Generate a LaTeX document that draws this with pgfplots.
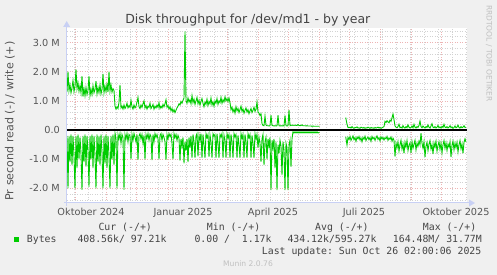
\documentclass[border=0pt]{standalone}
\usepackage{pgfplots}
\pgfplotsset{compat=1.18}
\usepackage{fontspec}
\setmainfont{DejaVu Sans}
\setmonofont{DejaVu Sans Mono}
\definecolor{bg}{HTML}{F0F0F0}
\definecolor{lg}{HTML}{00CC00}
\definecolor{mgrid}{HTML}{EDB4B4}
\definecolor{ngrid}{HTML}{D2D2D2}
\definecolor{axc}{HTML}{C8D0F4}
\definecolor{txt}{HTML}{555555}
\definecolor{ttl}{HTML}{444444}
\definecolor{wm}{HTML}{C0C0C0}
\newcommand{\axfont}{\fontsize{9.72pt}{11pt}\selectfont}
\newcommand{\lgfont}{\ttfamily\fontsize{9.85pt}{11pt}\selectfont}
\begin{document}
\begin{tikzpicture}[x=1pt,y=1pt]
\fill[bg] (0,0) rectangle (497,275);
\begin{axis}[
  at={(67pt,72pt)}, anchor=south west,
  scale only axis, width=400pt, height=175pt,
  xmin=0, xmax=400, ymin=-2.5, ymax=3.5,
  axis background/.style={fill=white},
  axis line style={draw=none},
  tick style={draw=none},
  xtick={8.5,39.8,69.8,101,132,160.5,191.5,221.5,252,282,313,344,374.5},
  xticklabels={},
  minor xtick={7,21,35,49,63,77,91,105,119,133,147,161,175,189,203,217,231,245,259,273,287,301,315,329,343,357,371,385,399},
  extra x ticks={24,116,206,297,389},
  extra x tick labels={Oktober 2024,Januar 2025,April 2025,Juli 2025,Oktober 2025},
  extra x tick style={grid=none, xticklabel style={anchor=base, yshift=-12.5pt, inner sep=0pt, font=\axfont, text=txt}},
  ytick={-2,-1,0,1,2,3},
  yticklabels={-2.0 M,-1.0 M,0.0,1.0 M,2.0 M,3.0 M},
  yticklabel style={anchor=east, inner sep=0pt, xshift=-7pt, font=\axfont, text=txt},
  minor ytick={-2.4,-2.2,-1.8,-1.6,-1.4,-1.2,-0.8,-0.6,-0.4,-0.2,0.2,0.4,0.6,0.8,1.2,1.4,1.6,1.8,2.2,2.4,2.6,2.8,3.2,3.4},
  grid=both,
  major grid style={draw=mgrid, line width=0.7pt, dash pattern=on 1pt off 1.5pt},
  minor grid style={draw=ngrid, line width=0.7pt, dash pattern=on 1pt off 1.5pt},
  clip=false,
]
% write (+)
\addplot[lg, line width=0.9pt] coordinates {
(0,1.30)(1,2.00)(2,1.35)(3,1.55)(4,1.28)(5,1.45)(6,1.70)(7,1.32)(8,1.50)(9,2.08)
(10,1.42)(11,1.62)(12,1.33)(13,1.52)(14,1.28)(15,1.85)(16,1.15)(17,1.42)(18,1.18)(19,1.46)
(20,1.22)(21,1.36)(22,1.85)(23,1.18)(24,1.40)(25,1.22)(26,1.52)(27,1.28)(28,1.40)(29,1.68)
(30,1.24)(31,1.46)(32,1.28)(33,1.55)(34,1.24)(35,1.40)(36,1.93)(37,1.28)(38,1.50)(39,1.32)
(40,1.56)(41,1.30)(42,2.00)(43,1.34)(44,1.55)(45,1.30)(46,1.42)(47,1.36)(48,0.82)(49,0.72)
(50,0.80)(51,0.74)(52,0.95)(53,1.55)(54,0.76)(55,0.82)(56,0.72)(57,0.86)(58,0.74)(59,0.80)
(60,0.92)(61,0.76)(62,0.84)(63,0.78)(64,1.02)(65,0.80)(66,0.72)(67,0.86)(68,0.76)(69,0.82)
(70,0.96)(71,1.12)(72,0.80)(73,0.74)(74,0.86)(75,0.78)(76,0.90)(77,1.00)(78,0.76)(79,0.84)
(80,0.72)(81,0.82)(82,0.78)(83,0.92)(84,0.74)(85,0.80)(86,0.88)(87,0.72)(88,0.82)(89,0.76)
(90,0.86)(91,0.78)(92,0.94)(93,0.74)(94,0.82)(95,0.76)(96,0.88)(97,0.80)(98,0.90)(99,1.04)
(100,0.78)(101,0.84)(102,0.72)(103,0.80)(104,0.66)(105,0.74)(106,0.62)(107,0.70)(108,0.60)(109,0.68)
(110,0.76)(111,0.82)(112,0.90)(113,0.86)(114,0.98)(115,0.92)(116,1.02)(117,1.10)(118,3.38)(119,1.00)
(120,0.92)(121,1.10)(122,0.96)(123,1.04)(124,0.90)(125,1.18)(126,0.94)(127,1.06)(128,0.88)(129,1.00)
(130,1.12)(131,0.90)(132,1.02)(133,0.86)(134,0.98)(135,1.08)(136,0.92)(137,0.80)(138,0.96)(139,0.88)
(140,1.06)(141,0.84)(142,0.98)(143,0.90)(144,1.10)(145,0.86)(146,0.96)(147,0.82)(148,1.00)(149,0.92)
(150,1.08)(151,0.88)(152,1.00)(153,0.94)(154,1.12)(155,0.92)(156,1.04)(157,0.96)(158,1.14)(159,1.00)
(160,1.08)(161,0.98)(162,1.10)(163,0.94)(164,0.70)(165,0.78)(166,0.62)(167,0.72)(168,0.58)(169,0.80)
(170,0.66)(171,0.74)(172,0.60)(173,0.70)(174,0.82)(175,0.64)(176,0.72)(177,0.58)(178,0.68)(179,0.76)
(180,0.62)(181,0.70)(182,0.56)(183,0.66)(184,0.74)(185,0.60)(186,0.68)(187,0.78)(188,0.64)(189,0.72)
(190,0.96)(191,0.62)(192,0.58)(193,0.50)(194,0.56)(195,0.22)(196,0.16)(197,0.15)(198,0.48)(199,0.17)
(200,0.15)(201,0.15)(202,0.14)(203,0.15)(204,0.51)(205,0.16)(206,0.15)(207,0.14)(208,0.15)(209,0.14)
(210,0.15)(211,0.51)(212,0.15)(213,0.14)(214,0.15)(215,0.14)(216,0.15)(217,0.14)(218,0.50)(219,0.15)
(220,0.14)(221,0.15)(222,0.69)(223,0.15)(224,0.17)(225,0.16)(226,0.17)(227,0.16)(228,0.17)(229,0.16)
(230,0.16)(231,0.19)(232,0.16)(233,0.15)(234,0.16)(235,0.18)(236,0.15)(237,0.15)(238,0.15)(239,0.14)
(240,0.15)(241,0.14)(242,0.14)(243,0.14)(244,0.14)(245,0.13)(246,0.14)(247,0.13)(248,0.13)(249,0.13)
(250,0.13)(251,0.13)(252.5,0.13)
};
\addplot[lg, line width=0.9pt] coordinates {
(278.7,0.43)(280,0.20)(281,0.09)(282,0.08)(283,0.10)(284,0.07)(285,0.12)(286,0.08)(287,0.06)(288,0.09)(289,0.08)
(290,0.11)(291,0.07)(292,0.08)(293,0.06)(294,0.10)(295,0.08)(296,0.07)(297,0.09)(298,0.06)(299,0.08)
(300,0.07)(301,0.10)(302,0.08)(303,0.06)(304,0.09)(305,0.07)(306,0.08)(307,0.06)(308,0.09)(309,0.07)
(310,0.08)(311,0.10)(312,0.07)(313,0.09)(314,0.06)(315,0.08)(316,0.10)(317,0.12)(318,0.30)(319,0.26)
(320,0.32)(321,0.28)(322,0.25)(323,0.34)(324,0.30)(325,0.42)(326,0.55)(327,0.36)(328,0.14)(329,0.10)
(330,0.08)(331,0.12)(332,0.20)(333,0.08)(334,0.10)(335,0.07)(336,0.15)(337,0.09)(338,0.07)(339,0.12)
(340,0.08)(341,0.18)(342,0.10)(343,0.07)(344,0.09)(345,0.14)(346,0.08)(347,0.20)(348,0.10)(349,0.07)
(350,0.12)(351,0.09)(352,0.16)(353,0.31)(354,0.12)(355,0.08)(356,0.14)(357,0.10)(358,0.07)(359,0.12)
(360,0.09)(361,0.18)(362,0.10)(363,0.07)(364,0.14)(365,0.22)(366,0.10)(367,0.08)(368,0.12)(369,0.07)
(370,0.10)(371,0.16)(372,0.08)(373,0.11)(374,0.07)(375,0.13)(376,0.09)(377,0.20)(378,0.10)(379,0.08)
(380,0.12)(381,0.07)(382,0.10)(383,0.15)(384,0.08)(385,0.11)(386,0.06)(387,0.09)(388,0.14)(389,0.08)
(390,0.10)(391,0.17)(392,0.09)(393,0.07)(394,0.12)(395,0.08)(396,0.10)(397,0.15)(398,0.09)(399,0.10)
};
% read (-)
\addplot[lg, line width=0.9pt] coordinates {
(0,-0.20)(1,-2.00)(2,-0.20)(3,-1.10)(4,-0.15)(5,-1.20)(6,-0.20)(7,-0.90)(8,-2.00)(9,-0.20)
(10,-1.30)(11,-0.15)(12,-1.00)(13,-0.25)(14,-0.80)(15,-2.05)(16,-0.20)(17,-1.10)(18,-0.15)(19,-1.25)
(20,-0.20)(21,-0.70)(22,-1.95)(23,-0.20)(24,-1.00)(25,-0.15)(26,-1.30)(27,-0.20)(28,-0.90)(29,-2.00)
(30,-0.15)(31,-1.10)(32,-0.20)(33,-1.20)(34,-0.15)(35,-0.80)(36,-2.00)(37,-0.20)(38,-1.15)(39,-0.15)
(40,-1.30)(41,-0.20)(42,-0.90)(43,-2.00)(44,-0.20)(45,-1.00)(46,-0.15)(47,-1.20)(48,-0.10)(49,-0.30)
(50,-2.00)(51,-0.15)(52,-0.30)(53,-0.12)(54,-0.45)(55,-0.15)(56,-0.25)(57,-2.05)(58,-0.15)(59,-0.30)
(60,-0.12)(61,-0.40)(62,-0.15)(63,-0.20)(64,-1.00)(65,-0.15)(66,-0.35)(67,-0.12)(68,-0.25)(69,-0.40)
(70,-0.15)(71,-1.02)(72,-0.20)(73,-0.12)(74,-0.30)(75,-0.15)(76,-0.45)(77,-0.18)(78,-1.00)(79,-0.15)
(80,-0.28)(81,-0.12)(82,-0.35)(83,-0.15)(84,-0.22)(85,-1.03)(86,-0.15)(87,-0.40)(88,-0.12)(89,-0.25)
(90,-0.15)(91,-0.30)(92,-1.00)(93,-0.18)(94,-0.12)(95,-0.35)(96,-0.15)(97,-0.25)(98,-0.40)(99,-1.02)
(100,-0.15)(101,-0.30)(102,-0.12)(103,-0.22)(104,-0.15)(105,-0.45)(106,-1.00)(107,-0.12)(108,-0.25)(109,-0.15)
(110,-0.35)(111,-0.18)(112,-0.28)(113,-1.05)(114,-0.30)(115,-0.55)(116,-0.25)(117,-1.14)(118,-0.40)(119,-0.70)
(120,-0.30)(121,-1.10)(122,-0.25)(123,-0.60)(124,-0.20)(125,-0.95)(126,-0.15)(127,-0.40)(128,-0.95)(129,-0.20)
(130,-0.12)(131,-0.90)(132,-0.18)(133,-0.35)(134,-0.12)(135,-0.95)(136,-0.15)(137,-0.50)(138,-0.95)(139,-0.12)
(140,-0.25)(141,-0.15)(142,-0.92)(143,-0.18)(144,-0.40)(145,-0.95)(146,-0.12)(147,-0.20)(148,-0.15)(149,-0.95)
(150,-0.12)(151,-0.45)(152,-0.95)(153,-0.15)(154,-0.22)(155,-0.12)(156,-0.95)(157,-0.18)(158,-0.35)(159,-0.95)
(160,-0.12)(161,-0.25)(162,-0.15)(163,-0.95)(164,-0.15)(165,-0.40)(166,-0.95)(167,-0.12)(168,-0.22)(169,-0.15)
(170,-0.95)(171,-0.18)(172,-0.50)(173,-0.95)(174,-0.12)(175,-0.28)(176,-0.15)(177,-0.95)(178,-0.15)(179,-0.40)
(180,-0.95)(181,-0.12)(182,-0.25)(183,-0.15)(184,-0.95)(185,-0.18)(186,-0.45)(187,-0.95)(188,-0.12)(189,-0.30)
(190,-0.15)(191,-0.60)(192,-0.25)(193,-0.45)(194,-1.09)(195,-0.30)(196,-0.15)(197,-1.20)(198,-0.40)(199,-0.25)
(200,-1.00)(201,-0.30)(202,-0.55)(203,-0.25)(204,-2.06)(205,-0.35)(206,-0.60)(207,-0.30)(208,-1.30)(209,-0.40)
(210,-2.06)(211,-0.50)(212,-0.80)(213,-0.35)(214,-0.55)(215,-1.54)(216,-0.40)(217,-0.70)(218,-2.06)(219,-0.45)
(220,-0.60)(221,-2.06)(222,-0.50)(223,-0.35)(224,-1.26)(225,-0.30)(226,-0.06)(227,-0.10)(228,-0.06)(229,-0.10)
(230,-0.06)(231,-0.10)(232,-0.06)(233,-0.10)(234,-0.06)(235,-0.10)(236,-0.06)(237,-0.10)(238,-0.06)(239,-0.10)
(240,-0.06)(241,-0.10)(242,-0.06)(243,-0.10)(244,-0.06)(245,-0.10)(246,-0.06)(247,-0.10)(248,-0.06)(249,-0.10)
(250,-0.06)(251,-0.10)(252.5,-0.07)
};
\addplot[lg, line width=0.9pt] coordinates {
(278.7,-0.23)(280,-0.51)(281,-0.25)(282,-0.32)(283,-0.22)(284,-0.35)(285,-0.28)(286,-0.20)(287,-0.33)(288,-0.26)(289,-0.38)
(290,-0.24)(291,-0.30)(292,-0.22)(293,-0.34)(294,-0.27)(295,-0.40)(296,-0.25)(297,-0.31)(298,-0.21)(299,-0.36)
(300,-0.28)(301,-0.24)(302,-0.33)(303,-0.26)(304,-0.38)(305,-0.22)(306,-0.30)(307,-0.25)(308,-0.35)(309,-0.27)
(310,-0.20)(311,-0.32)(312,-0.26)(313,-0.37)(314,-0.23)(315,-0.30)(316,-0.25)(317,-0.34)(318,-0.26)(319,-0.30)
(320,-0.22)(321,-0.35)(322,-0.27)(323,-0.32)(324,-0.24)(325,-0.38)(326,-0.28)(327,-0.35)(328,-0.91)(329,-0.45)
(330,-0.60)(331,-0.40)(332,-0.72)(333,-0.50)(334,-0.35)(335,-0.65)(336,-0.48)(337,-0.80)(338,-0.42)(339,-0.58)
(340,-0.36)(341,-0.70)(342,-0.52)(343,-0.44)(344,-0.78)(345,-0.40)(346,-0.62)(347,-0.48)(348,-0.35)(349,-0.68)
(350,-0.45)(351,-0.55)(352,-0.38)(353,-0.50)(354,-0.11)(355,-0.45)(356,-0.62)(357,-0.40)(358,-0.93)(359,-0.55)
(360,-0.42)(361,-0.70)(362,-0.48)(363,-0.36)(364,-0.65)(365,-0.50)(366,-0.82)(367,-0.44)(368,-0.58)(369,-0.38)
(370,-0.72)(371,-0.52)(372,-0.40)(373,-0.66)(374,-0.45)(375,-0.78)(376,-0.50)(377,-0.36)(378,-0.62)(379,-0.44)
(380,-0.70)(381,-0.48)(382,-0.58)(383,-0.40)(384,-0.93)(385,-0.52)(386,-0.38)(387,-0.68)(388,-0.45)(389,-0.60)
(390,-0.42)(391,-0.75)(392,-0.50)(393,-0.36)(394,-0.64)(395,-0.48)(396,-0.80)(397,-0.42)(398,-0.30)(399,-0.41)
};
\draw[black, line width=1.5pt] (axis cs:0,0) -- (axis cs:400,0);
\end{axis}
% axes with arrows
\draw[axc, line width=1pt] (64,72) -- (470,72);
\fill[axc] (469,75.5) -- (475,72) -- (469,68.5) -- cycle;
\draw[axc, line width=1pt] (66.7,69) -- (66.7,250);
\fill[axc] (63.2,248) -- (66.7,254) -- (70.2,248) -- cycle;
% title
\node[anchor=base, inner sep=0pt, text=ttl, font=\fontsize{12.5pt}{14pt}\selectfont] at (247.8,251.7) {Disk throughput for /dev/md1 - by year};
% y label
\node[rotate=90, inner sep=0pt, text=txt, font=\fontsize{11.1pt}{13pt}\selectfont] at (10,154) {Pr second read (-) / write (+)};
% watermark
\node[rotate=-90, inner sep=0pt, text=wm, font=\fontsize{7.5pt}{9pt}\selectfont] at (489,221.5) {RRDTOOL / TOBI OETIKER};
% legend
\begin{scope}[every node/.style={anchor=base west, inner sep=0pt, text=ttl, font=\lgfont}]
\node at (98.3,44) {Cur (-/+)};
\node at (206.7,44) {Min (-/+)};
\node at (315,44) {Avg (-/+)};
\node at (422.7,44) {Max (-/+)};
\fill[lg] (14,33.3) rectangle (19,38.3);
\node at (26.7,32) {Bytes};
\node at (77.3,32) {408.56k/ 97.21k};
\node at (194.3,32) {0.00 /~ 1.17k};
\node at (287.3,32) {434.12k/595.27k};
\node at (392.7,32) {164.48M/ 31.77M};
\node at (261.7,20) {Last update: Sun Oct 26 02:00:06 2025};
\end{scope}
\node[anchor=base, inner sep=0pt, text=wm, font=\fontsize{7.6pt}{9pt}\selectfont] at (248,8.3) {Munin 2.0.76};
\end{tikzpicture}
\end{document}
